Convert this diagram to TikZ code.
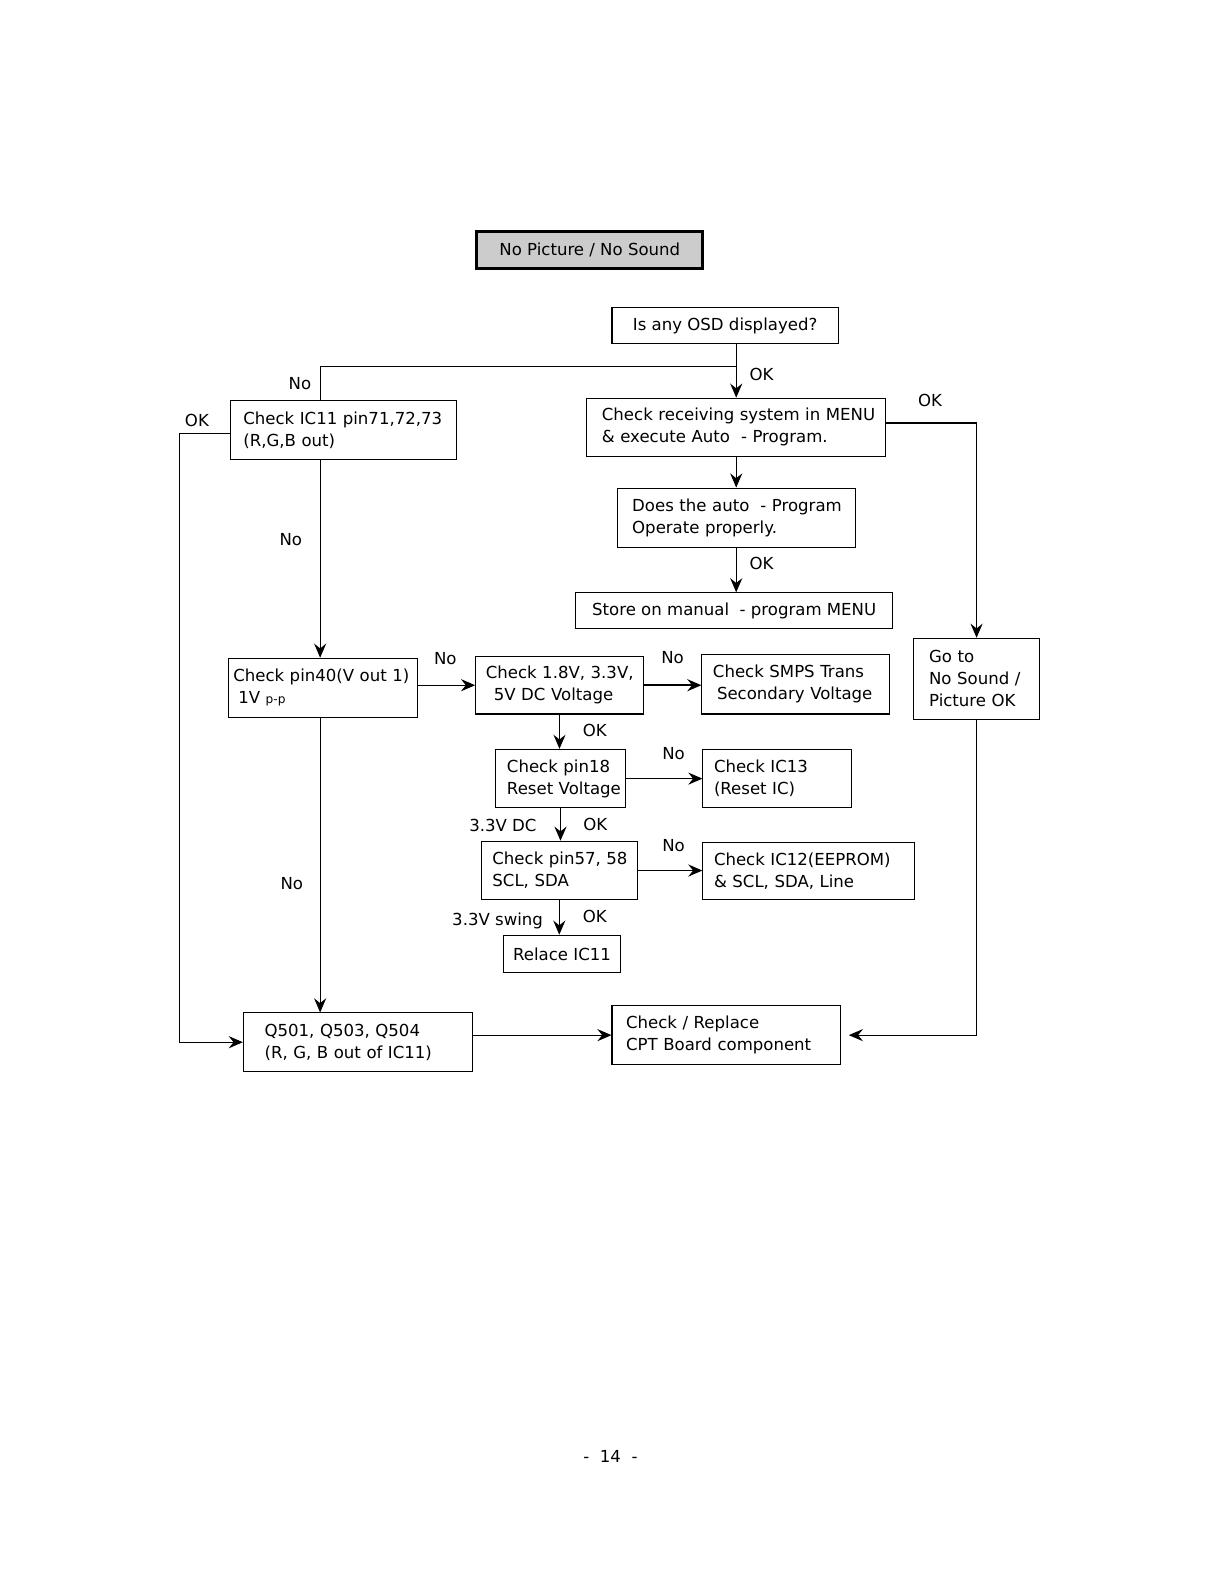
\documentclass[tikz,border=0pt]{standalone}
\usepackage{fontspec}
\setmainfont{DejaVu Sans}
\usetikzlibrary{arrows.meta}

\begin{document}
\begin{tikzpicture}[x=0.5pt, y=-0.5pt, line width=0.5pt,
    >={Stealth[length=7pt, width=6pt, inset=2.4pt]},
    font=\fontsize{8.2}{11}\selectfont,
    box/.style n args={3}{draw, align=left, inner xsep=0pt, inner ysep=0pt,
      text width=#1, minimum height=#3, execute at begin node={\leftskip=#2}},
    onebox/.style={draw, inner sep=0pt, minimum width=#1, minimum height=18pt},
    title/.style={onebox=112pt, minimum height=18.3pt, line width=1.5pt, fill=gray!40},
    lbl/.style={inner sep=0pt}]

  \useasboundingbox (0,0) rectangle (1208,1567.5);

  \node[title]  (start)  at (584,248)    {No Picture / No Sound};
  \node[onebox=112pt] (osd) at (718,322.5) {Is any OSD displayed?};
  \node[box={148pt}{7.5pt}{28.75pt}] (recv) at (729,423) {Check receiving system in MENU\\\& execute Auto\ \ - Program.};
  \node[box={118pt}{7.5pt}{29.25pt}] (auto) at (729,512.5) {Does the auto\ \ - Program\\Operate properly.};
  \node[onebox=157pt, minimum height=17.5pt] (store) at (727,604.5) {Store on manual\ \ - program MENU};
  \node[box={112pt}{6.5pt}{29pt}] (ic11) at (340,425.7) {Check IC11 pin71,72,73\\(R,G,B out)};
  \node[box={93.5pt}{2.5pt}{29.25pt}] (pin40) at (319.5,681) {Check pin40(V out 1)\\\hspace*{2.5pt}1V {\fontsize{6}{7}\selectfont p-p}};
  \node[box={83pt}{5pt}{28.5pt}] (volt) at (554,678.5) {Check 1.8V, 3.3V,\\\hspace*{4pt}5V DC Voltage};
  \node[box={93pt}{5.5pt}{29.5pt}] (smps) at (788,677.5) {Check SMPS Trans\\\hspace*{2pt}Secondary Voltage};
  \node[box={64pt}{5.5pt}{29pt}] (pin18) at (555,771) {Check pin18\\Reset~Voltage};
  \node[box={73.5pt}{5.5pt}{29pt}] (ic13) at (769.5,771) {Check IC13\\(Reset IC)};
  \node[box={77.2pt}{5.5pt}{29pt}] (pin57) at (553.8,862) {Check pin57, 58\\SCL, SDA};
  \node[box={105pt}{5.5pt}{28.5pt}] (ic12) at (801,862.5) {Check IC12(EEPROM)\\\& SCL, SDA, Line};
  \node[onebox=57.5pt, minimum height=18.5pt] (relace) at (556.5,944.5) {Relace IC11};
  \node[box={113.5pt}{10.5pt}{29pt}] (q501) at (354.5,1032) {Q501, Q503, Q504\\(R, G, B out of IC11)};
  \node[box={113pt}{7pt}{29pt}] (cpt) at (719,1025) {Check / Replace\\CPT Board component};
  \node[box={62pt}{7.5pt}{40pt}] (goto) at (967,672) {Go to\\No Sound /\\Picture OK};

  \coordinate (split) at (729,363);
  \coordinate (lcol)  at (317,363);
  \coordinate (rcol)  at (967,419);

  \draw[->] (osd.south -| recv.north) -- (recv.north);
  \draw (split) -- (lcol) -- (lcol |- ic11.north);
  \draw[->] (lcol |- ic11.south) -- (lcol |- pin40.north);
  \draw[->] (lcol |- pin40.south) -- (lcol |- q501.north);
  \draw[->] ([yshift=-2pt]ic11.west) -- ++(-50,0) |- (q501.west);
  \draw[line width=0.9pt] (recv.east |- rcol) -- (rcol);
  \draw[->] (rcol) -- (goto.north);
  \draw[->] (recv.south) -- (auto.north);
  \draw[->] (auto.south) -- (auto.south |- store.north);
  \draw[->] (pin40.east |- volt.west) -- (volt.west);
  \draw[->, line width=0.9pt] (volt.east) -- (volt.east -| smps.west);
  \draw[->] (volt.south) -- (volt.south |- pin18.north);
  \draw[->] (pin18.east) -- (ic13.west);
  \draw[->] (pin18.south) -- (pin18.south |- pin57.north);
  \draw[->] (pin57.east) -- (pin57.east -| ic12.west);
  \draw[->] (pin57.south) -- (pin57.south |- relace.north);
  \draw[->] (q501.east |- cpt.west) -- (cpt.west);
  \draw[->] (goto.south) |- ([xshift=4pt]cpt.east);

  \node[lbl] (okosd)   at (754,371)     {OK};
  \node[lbl] (noosd)   at (297,380)     {No};
  \node[lbl] (okic11)  at (195,416)     {OK};
  \node[lbl] (okrecv)  at (921,397)     {OK};
  \node[lbl] (okauto)  at (754,557.5)   {OK};
  \node[lbl] (noic11)  at (288,534)     {No};
  \node[lbl] (nopin40) at (289,875)     {No};
  \node[lbl] (novin)   at (441,652)     {No};
  \node[lbl] (novolt)  at (666,651)     {No};
  \node[lbl] (okvolt)  at (589,723)     {OK};
  \node[lbl] (nopin18) at (667,746)     {No};
  \node[lbl] (dcpin18) at (498,817)     {3.3V DC};
  \node[lbl] (okpin18) at (589.5,816)   {OK};
  \node[lbl] (nopin57) at (667,837)     {No};
  \node[lbl] (swpin57) at (492.7,911.5) {3.3V swing};
  \node[lbl] (okpin57) at (589,907.5)   {OK};
  \node[lbl] (page)    at (604.5,1442.5) {-\ \ 14\ \ -};
\end{tikzpicture}
\end{document}
